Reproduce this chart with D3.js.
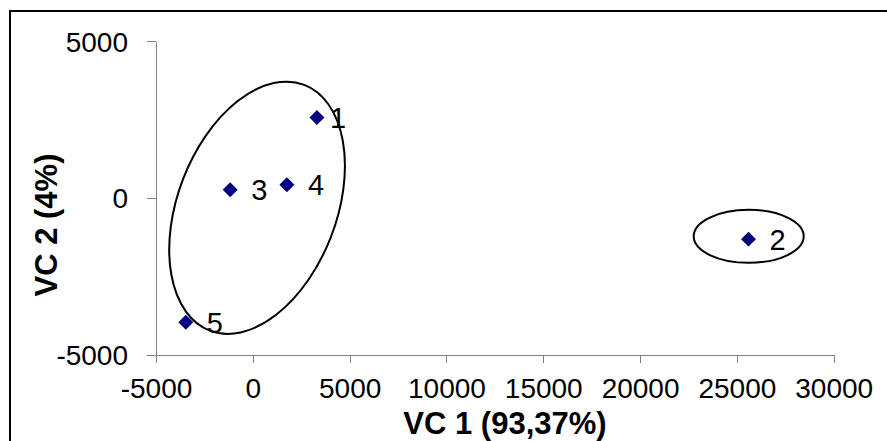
<!DOCTYPE html>
<html>
<head>
<meta charset="utf-8">
<script src="https://cdn.jsdelivr.net/npm/d3@7"></script>
<style>
  html, body { margin: 0; padding: 0; background: #fff; }
  svg { display: block; font-family: "Liberation Sans", Arial, sans-serif; }
  .axis path, .axis line { stroke: #808080; shape-rendering: crispEdges; }
  .axis text { font-size: 28px; fill: #000; }
</style>
</head>
<body>
<svg id="chart" width="887" height="441"></svg>
<script>
"use strict";

// ─── Data ─────────────────────────────────────────────────────────────────────
const pointLabels = ["1", "2", "3", "4", "5"];
const vc1 = [3310, 25600, -1170, 1760, -3460];
const vc2 = [2560, -1320, 255, 415, -3970];

const xTicks = [-5000, 0, 5000, 10000, 15000, 20000, 25000, 30000];
const yTicks = [-5000, 0, 5000];
const xTitle = "VC 1 (93,37%)";
const yTitle = "VC 2 (4%)";

// cluster ellipses: centre in data units
const clusterCx = [220, 25610];
const clusterCy = [-320, -1230];

const svg = d3.select("#chart");

// outer chart border (runs off right/bottom edge)
svg.append("rect")
  .attr("x", 10).attr("y", 11)
  .attr("width", 920).attr("height", 480)
  .attr("fill", "none").attr("stroke", "#000").attr("stroke-width", 2);

const x = d3.scaleLinear().domain([-5000, 30000]).range([156, 833.7]);
const y = d3.scaleLinear().domain([-5000, 5000]).range([354.5, 41]);
const fmt = d => String(d);   // plain hyphen minus, like the original

const xAxis = svg.append("g").attr("class", "axis")
  .attr("transform", `translate(0,${y(-5000)})`)
  .call(d3.axisBottom(x).tickValues(xTicks).tickFormat(fmt).tickSize(8).tickSizeOuter(0).tickPadding(16));
xAxis.selectAll("text").attr("dy", "0.71em");

const yAxis = svg.append("g").attr("class", "axis")
  .attr("transform", `translate(${x(-5000)},0)`)
  .call(d3.axisLeft(y).tickValues(yTicks).tickFormat(fmt).tickSize(9).tickSizeOuter(0).tickPadding(19));
yAxis.selectAll("text").attr("dy", "0.36em");

// axis titles
svg.append("text")
  .attr("x", 505).attr("y", 434)
  .attr("text-anchor", "middle")
  .style("font-size", "31px").style("font-weight", "bold")
  .text(xTitle);

svg.append("text")
  .attr("transform", "translate(57,225) rotate(-90)")
  .attr("text-anchor", "middle")
  .style("font-size", "31px").style("font-weight", "bold")
  .text(yTitle);

// cluster ellipses (pixel radii + tilt)
const ellipseShape = [
  { rx: 79.4, ry: 131.6, rot: 21 },
  { rx: 55, ry: 26.5, rot: 0 }
];
svg.append("g").selectAll("ellipse")
  .data(clusterCx.map((cx, i) => ({ cx, cy: clusterCy[i], ...ellipseShape[i] })))
  .join("ellipse")
  .attr("transform", d => `translate(${x(d.cx)},${y(d.cy)}) rotate(${d.rot})`)
  .attr("rx", d => d.rx).attr("ry", d => d.ry)
  .attr("fill", "none").attr("stroke", "#000").attr("stroke-width", 2);

// points
const pts = pointLabels.map((k, i) => ({ key: k, x: vc1[i], y: vc2[i] }));
const diamond = d3.symbol(d3.symbolSquare, 112);

const g = svg.append("g").selectAll("g.pt").data(pts).join("g")
  .attr("class", "pt")
  .attr("transform", d => `translate(${x(d.x)},${y(d.y)})`);

g.append("path")
  .attr("d", diamond)
  .attr("transform", "rotate(45)")
  .attr("fill", "#000080");

// label "1" sits closer to its marker in the original
g.append("text")
  .attr("x", d => d.key === "1" ? 13 : 21)
  .attr("dy", "0.36em")
  .style("font-size", "29px")
  .text(d => d.key);
</script>
</body>
</html>
